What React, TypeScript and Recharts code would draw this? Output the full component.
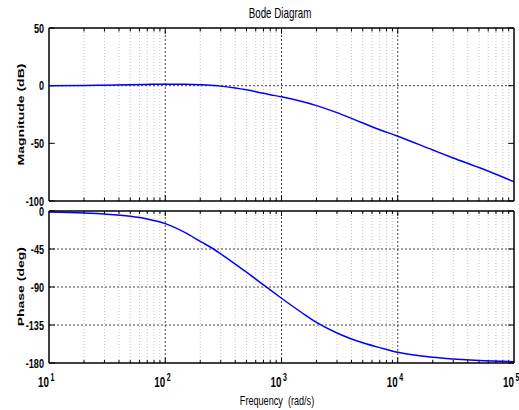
import React from 'react';
import { LineChart, Line, XAxis, YAxis, ReferenceLine } from 'recharts';

const frequencies = [10, 20, 30, 50, 70, 100, 150, 200, 260, 300, 400, 500, 700, 800, 1000, 1500, 2000, 3000, 4000, 5000, 7000, 10000, 20000, 30000, 50000, 100000];
const magnitudeDb = [0, 0.2, 0.4, 0.8, 1.1, 1.3, 1.2, 0.8, 0.1, -0.4, -2.0, -3.6, -6.6, -7.8, -9.7, -13.8, -17.3, -23.4, -28.4, -32.4, -38.2, -43.8, -55.8, -62.7, -71, -83.3];
const phaseDeg = [-1.2, -2.4, -3.6, -6.2, -9.4, -15, -26, -36, -45, -50.8, -62.8, -72.5, -87.5, -93.5, -103.3, -120.5, -132, -144.5, -151.5, -156, -161.8, -167.3, -173.2, -175.2, -177, -178.4];

const freqTicks = [10, 100, 1000, 10000, 100000];
const magTicks = [-100, -50, 0, 50];
const phaseTicks = [-180, -135, -90, -45, 0];
const majorGridFreqs = [100, 1000, 10000];
const minorFreqs = [
  20, 30, 40, 50, 60, 70, 80, 90,
  200, 300, 400, 500, 600, 700, 800, 900,
  2000, 3000, 4000, 5000, 6000, 7000, 8000, 9000,
  20000, 30000, 40000, 50000, 60000, 70000, 80000, 90000,
];

const data = frequencies.map((f, i) => ({ f, mag: magnitudeDb[i], phase: phaseDeg[i] }));

const FONT = "'Liberation Sans', Arial, sans-serif";
const SX = 0.7;
const W = 519;
const H = 410;

const YTick = (props: any) => {
  const { x, y, payload } = props;
  return (
    <g transform={`translate(${x},${y + 4.5}) scale(${SX},1)`}>
      <text x={0} y={0} textAnchor="end" fontFamily={FONT} fontSize={13} fontWeight="bold" fill="#000">
        {payload.value}
      </text>
    </g>
  );
};

const XTick = (props: any) => {
  const { x, y, payload } = props;
  const exp = Math.round(Math.log10(payload.value));
  return (
    <g transform={`translate(${x},${y + 24}) scale(${SX},1)`}>
      <text x={0} y={0} textAnchor="end" fontFamily={FONT} fontSize={14} fontWeight="bold" fill="#000">10</text>
      <text x={2} y={-6.5} textAnchor="start" fontFamily={FONT} fontSize={10} fontWeight="bold" fill="#000">{exp}</text>
    </g>
  );
};

const minorGrid = { stroke: '#c4c4c4', strokeDasharray: '1 2', strokeWidth: 1 };
const majorGrid = { stroke: '#444', strokeDasharray: '2 2', strokeWidth: 1 };

function frame(
  prefix: string,
  yTop: number,
  yBottom: number,
  yTickVals: number[],
  minorLen: number,
  majorLen: number,
  hGrid: number[],
) {
  const items: any[] = [];
  minorFreqs.forEach((f) => {
    items.push(<ReferenceLine key={`${prefix}g${f}`} x={f} {...minorGrid} />);
  });
  majorGridFreqs.forEach((f) => {
    items.push(<ReferenceLine key={`${prefix}G${f}`} x={f} {...majorGrid} />);
  });
  hGrid.forEach((v) => {
    items.push(<ReferenceLine key={`${prefix}H${v}`} y={v} {...majorGrid} />);
  });
  minorFreqs.forEach((f) => {
    items.push(<ReferenceLine key={`${prefix}tt${f}`} segment={[{ x: f, y: yTop }, { x: f, y: yTop - minorLen }]} stroke="#000" />);
    items.push(<ReferenceLine key={`${prefix}tb${f}`} segment={[{ x: f, y: yBottom }, { x: f, y: yBottom + minorLen }]} stroke="#000" />);
  });
  majorGridFreqs.forEach((f) => {
    items.push(<ReferenceLine key={`${prefix}Tt${f}`} segment={[{ x: f, y: yTop }, { x: f, y: yTop - majorLen }]} stroke="#000" />);
    items.push(<ReferenceLine key={`${prefix}Tb${f}`} segment={[{ x: f, y: yBottom }, { x: f, y: yBottom + majorLen }]} stroke="#000" />);
  });
  yTickVals.forEach((v) => {
    items.push(<ReferenceLine key={`${prefix}yl${v}`} segment={[{ x: 10, y: v }, { x: 11.2, y: v }]} stroke="#000" />);
    items.push(<ReferenceLine key={`${prefix}yr${v}`} segment={[{ x: 89300, y: v }, { x: 100000, y: v }]} stroke="#000" />);
  });
  return items;
}

export default function App() {
  return (
    <div style={{ position: 'absolute', left: 0, top: 0, width: W, height: H, background: '#fff' }}>
      <div style={{ position: 'absolute', left: 0, top: 0 }}>
        <LineChart width={W} height={H} data={data} margin={{ top: 28, right: 5, bottom: 209, left: 0 }}>
          <XAxis dataKey="f" type="number" scale="log" domain={[10, 100000]} ticks={freqTicks} hide allowDataOverflow />
          <YAxis
            type="number"
            domain={[-100, 50]}
            ticks={magTicks}
            width={49}
            tickSize={0}
            tickMargin={5}
            tickLine={false}
            axisLine={{ stroke: '#000', strokeWidth: 1.5 }}
            tick={<YTick />}
            interval={0}
            allowDataOverflow
          />
          {frame('m', 50, -100, magTicks, 3, 5, [0])}
          <Line dataKey="mag" type="monotone" stroke="#0000ff" strokeWidth={1.5} dot={false} isAnimationActive={false} />
          <ReferenceLine y={50} stroke="#000" strokeWidth={1.5} />
          <ReferenceLine y={-100} stroke="#000" strokeWidth={1.5} />
          <ReferenceLine x={100000} stroke="#000" strokeWidth={1.5} />
        </LineChart>
      </div>
      <div style={{ position: 'absolute', left: 0, top: 0 }}>
        <LineChart width={W} height={H} data={data} margin={{ top: 211, right: 5, bottom: 17, left: 0 }}>
          <XAxis
            dataKey="f"
            type="number"
            scale="log"
            domain={[10, 100000]}
            ticks={freqTicks}
            height={30}
            tickSize={0}
            tickMargin={0}
            tickLine={false}
            axisLine={{ stroke: '#000', strokeWidth: 1.5 }}
            tick={<XTick />}
            interval={0}
            allowDataOverflow
          />
          <YAxis
            type="number"
            domain={[-180, 0]}
            ticks={phaseTicks}
            width={49}
            tickSize={0}
            tickMargin={5}
            tickLine={false}
            axisLine={{ stroke: '#000', strokeWidth: 1.5 }}
            tick={<YTick />}
            interval={0}
            allowDataOverflow
          />
          {frame('p', 0, -180, phaseTicks, 3.5, 6, [-45, -90, -135])}
          <Line dataKey="phase" type="monotone" stroke="#0000ff" strokeWidth={1.5} dot={false} isAnimationActive={false} />
          <ReferenceLine y={0} stroke="#000" strokeWidth={1.5} />
          <ReferenceLine x={100000} stroke="#000" strokeWidth={1.5} />
        </LineChart>
      </div>
      <svg width={W} height={H} style={{ position: 'absolute', left: 0, top: 0, pointerEvents: 'none' }}>
        <g transform={`translate(280,18) scale(${SX},1)`}>
          <text textAnchor="middle" fontFamily={FONT} fontSize={14} fill="#000">Bode Diagram</text>
        </g>
        <g transform={`translate(23.5,114.5) scale(${SX},1) rotate(-90)`}>
          <text textAnchor="middle" fontFamily={FONT} fontSize={14} fontWeight="bold" fill="#000">Magnitude (dB)</text>
        </g>
        <g transform={`translate(24,286.7) scale(${SX},1) rotate(-90)`}>
          <text textAnchor="middle" fontFamily={FONT} fontSize={14} fontWeight="bold" fill="#000">Phase (deg)</text>
        </g>
        <g transform={`translate(277,405) scale(${SX},1)`}>
          <text textAnchor="middle" fontFamily={FONT} fontSize={13} fill="#000" style={{ whiteSpace: 'pre' }}>Frequency  (rad/s)</text>
        </g>
      </svg>
    </div>
  );
}
